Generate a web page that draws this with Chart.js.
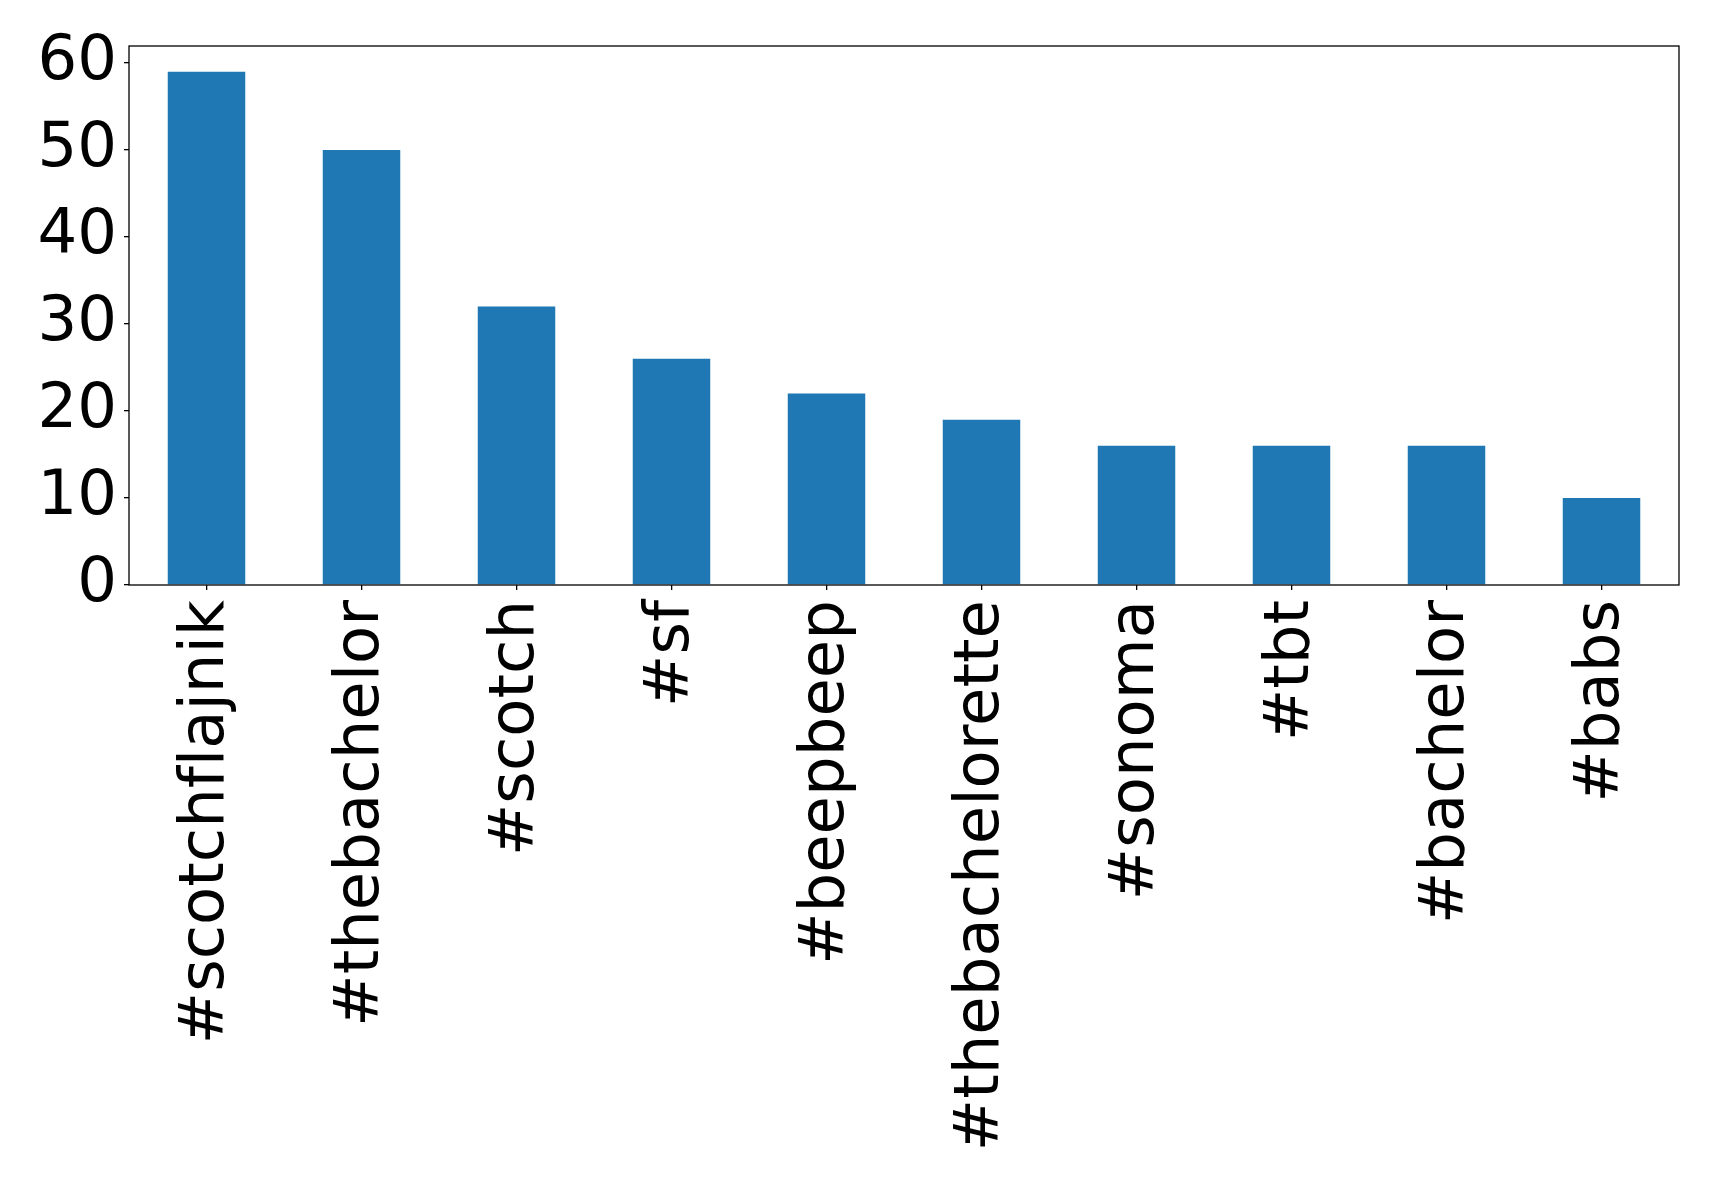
<!DOCTYPE html>
<html>
<head>
<meta charset="utf-8">
<script src="https://cdn.jsdelivr.net/npm/chart.js@4"></script>
<style>
  html, body { margin: 0; padding: 0; background: #fff; }
  #wrap { width: 1719px; height: 1186px; }
</style>
</head>
<body>
<div id="wrap"><canvas id="hashtagChart"></canvas></div>
<script>
/* ===============================
   Data
================================ */
const hashtags = [
  "#scotchflajnik", "#thebachelor", "#scotch", "#sf", "#beepbeep",
  "#thebachelorette", "#sonoma", "#tbt", "#bachelor", "#babs"
];
const counts = [59, 50, 32, 26, 22, 19, 16, 16, 16, 10];
const yTicks = [0, 10, 20, 30, 40, 50, 60];

const BAR_COLOR = "#1f77b4";
const FONT = { family: "'DejaVu Sans', sans-serif", size: 62.5 };

// no "fl" ligature, matplotlib draws glyphs one by one
const noLigatures = {
  id: "noLigatures",
  beforeDraw(chart) {
    chart.ctx.textRendering = "optimizeSpeed";
  },
};

// box around the plot area, like matplotlib's spines
const frame = {
  id: "frame",
  afterDatasetsDraw(chart) {
    const { ctx, chartArea: a } = chart;
    ctx.save();
    ctx.strokeStyle = "#000";
    ctx.lineWidth = 1.3;
    ctx.strokeRect(a.left, a.top, a.right - a.left, a.bottom - a.top);
    ctx.restore();
  },
};

new Chart(document.getElementById("hashtagChart"), {
  type: "bar",
  data: {
    labels: hashtags,
    datasets: [
      {
        data: counts,
        backgroundColor: BAR_COLOR,
        barPercentage: 0.5,
        categoryPercentage: 1.0,
      },
    ],
  },
  options: {
    responsive: true,
    maintainAspectRatio: false,
    animation: false,
    layout: { padding: { top: 46, right: 40, left: 0, bottom: 0 } },
    plugins: {
      legend: { display: false },
      tooltip: { enabled: false },
    },
    scales: {
      x: {
        offset: true,
        grid: { offset: false, drawOnChartArea: false, drawTicks: true, tickLength: 5, color: "#000", lineWidth: 1.3 },
        border: { display: false },
        ticks: {
          color: "#000",
          font: FONT,
          maxRotation: 90,
          minRotation: 90,
          padding: 10,
          autoSkip: false,
        },
        afterFit(scale) { scale.height = 601; },
      },
      y: {
        min: 0,
        max: 61.95,
        grid: { drawOnChartArea: false, drawTicks: true, tickLength: 5, color: "#000", lineWidth: 1.3 },
        border: { display: false },
        afterBuildTicks(scale) { scale.ticks = yTicks.map((v) => ({ value: v })); },
        ticks: { color: "#000", font: FONT, padding: 7, includeBounds: false },
        afterFit(scale) { scale.width = 129; },
      },
    },
  },
  plugins: [noLigatures, frame],
});
</script>
</body>
</html>
